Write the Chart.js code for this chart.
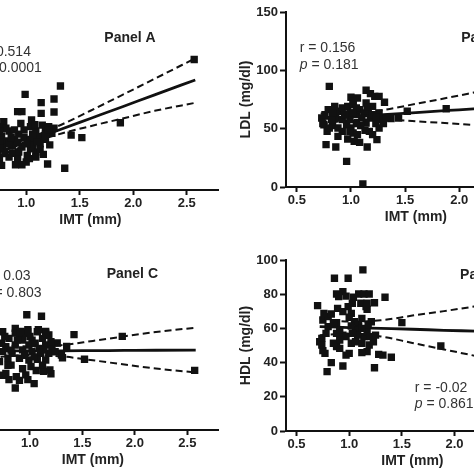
<!DOCTYPE html>
<html>
<head>
<meta charset="utf-8">
<script src="https://cdn.jsdelivr.net/npm/chart.js@4.4.1/dist/chart.umd.min.js"></script>
<style>
html, body { margin: 0; padding: 0; background: #fff; }
#page { position: relative; width: 474px; height: 474px; overflow: hidden; background: #fff; }
.panel { position: absolute; }
.panel canvas { display: block; }
</style>
</head>
<body>
<div id="page">
  <div class="panel" style="left:-98px; top:0px;"><canvas id="panelA" width="322" height="238" style="width:322px;height:238px"></canvas></div>
  <div class="panel" style="left:226px; top:0px;"><canvas id="panelB" width="325" height="235" style="width:325px;height:235px"></canvas></div>
  <div class="panel" style="left:-93px; top:248px;"><canvas id="panelC" width="317" height="230" style="width:317px;height:230px"></canvas></div>
  <div class="panel" style="left:226px; top:248px;"><canvas id="panelD" width="318" height="231" style="width:318px;height:231px"></canvas></div>
</div>
<script>
// x ticks shared by all panels (IMT, mm)
var imtTicks = [0.5, 1.0, 1.5, 2.0, 2.5];
// x positions where the fit line and its 95% band were read
var fitX = [0.72, 1.0, 1.3, 1.6, 1.9, 2.2, 2.58];

// Panel A  [IMT, value]
var pointsA = [[1.32,87.6],[0.99,80.6],[1.26,76.7],[1.14,73.6],[1.26,65.7],[1.14,64.6],[0.92,66],[0.96,66],[1.05,59],
  [2.57,110],[1.88,56.7],[1.42,46.3],[1.52,44.1],[1.20,21.9],[1.36,18.3],[0.79,57.6],
  [0.75,53.4],[1.04,53.4],[1.15,54.7],[1.21,53.4],[1.26,52],[1.09,49.7],[1.18,49.7],[1.24,47.8],[0.93,47.1],
  [0.84,49.7],[0.77,45.5],[0.81,41.3],[0.89,42.7],[0.98,44],[1.04,42.7],[1.12,44],[1.18,42.7],[1.13,39],
  [1.06,37.6],[0.96,36.2],[0.87,37],[0.78,36.2],[0.80,30.6],[0.84,27.8],[0.92,26.4],[1.01,29.2],[1.00,23.6],
  [0.90,21.3],[1.09,32],[1.04,34.8],[1.13,34.2],[0.75,26.4],[0.75,40.4],[0.93,32],[0.84,39],[1.18,47],
  [1.21,50.6],[0.98,50.6],[0.89,50.6],[0.81,52],[1.01,39],[1.10,40.4],[0.92,40.4],[1.06,47],[0.86,44],
  [0.75,49.7],[0.75,35.4],[1.03,26.4],[0.96,21.3],[1.09,27.8],[0.77,20.8],[0.72,45],[0.73,30],[0.71,55],
  [1.22,38],[1.16,30],[0.87,31],[0.95,56],[1.08,55]];
var fitA   = [31.2, 40.4, 50.4, 60.3, 70.2, 80.2, 92.7];
var upperA = [34.7, 42.9, 53.9, 66.8, 80.2, 93.7, 111];
var lowerA = [27.7, 37.9, 46.9, 53.8, 60.2, 66.7, 73.5];

// Panel B  [IMT, LDL]
var pointsB = [[0.80,86.3],[0.77,36.3],[0.86,34.3],[0.96,22],[1.11,2.6],[1.15,34.3],[1.08,38.3],[0.97,41.1],[1.24,40.6],
  [1.14,82.9],[1.18,80],[1.22,77.7],[1.26,77.7],[1.31,72.6],[1.00,76.9],[1.02,73.4],[1.52,64.9],[1.88,67.1],
  [1.44,59.1],[1.37,58.6],[1.26,50.6],[1.26,63.4],[0.79,66.3],[0.73,59.1],[0.75,53.4],[0.78,47.7],[0.83,52.6],
  [0.86,59.1],[0.89,64.9],[0.92,67.7],[0.97,69.1],[1.02,70.6],[0.99,63.4],[1.05,62],[1.08,66.3],[1.12,63.4],
  [1.16,64.9],[1.20,69.1],[1.18,59.1],[1.14,54.9],[1.09,52.6],[1.05,54.3],[1.00,50.6],[0.96,53.4],[0.92,57.7],
  [0.88,50.6],[0.82,57.7],[0.76,62],[1.02,46.3],[1.06,44.9],[1.17,47.7],[1.20,44.9],[1.23,54.3],[1.29,57.7],
  [1.33,59.1],[0.92,47.7],[0.99,57.7],[1.10,59.1],[1.05,67.7],[0.94,62],[0.85,69.1],[0.74,54.3],[1.20,62],
  [1.30,54.3],[1.14,72],[1.06,76.3],[0.88,43.4],[1.03,39.1],[1.13,48.6],[1.23,60],[0.83,63.4],[1.02,63.4],
  [1.15,68.6],[0.80,50.6],[0.99,47.7]];
var fitB   = [58.5, 60.2, 62.0, 63.8, 65.6, 67.4, 69.7];
var upperB = [63.0, 63.2, 66.0, 71.3, 76.6, 82.2, 89.2];
var lowerB = [54.0, 57.2, 58.0, 56.3, 54.6, 52.6, 50.2];
var ldlTicks = [0, 50, 100, 150];

// Panel C  [IMT, value]
var pointsC = [[0.97,67.8],[1.11,66.9],[0.98,59],[1.42,56.1],[1.88,55.1],[2.57,35.1],[1.52,41.6],[1.31,42.5],[1.35,49.2],
  [1.26,51.2],[1.17,55.7],[0.86,24.7],[0.90,29.2],[0.98,29.6],[1.04,27.3],[0.74,32.2],[0.80,29.6],[1.20,33.1],
  [1.13,34.5],[0.80,53.9],[0.90,55.9],[0.93,52.9],[1.02,52.9],[1.12,53.9],[1.18,55.9],[0.73,51],[0.77,49],
  [0.86,50],[0.99,50],[1.05,51],[1.15,50],[1.21,48],[0.74,46.1],[0.83,45.1],[0.93,47.1],[1.02,46.1],[1.10,45.1],
  [1.18,45.1],[1.30,44.1],[0.79,42.2],[0.90,42.2],[0.99,41.2],[1.07,41.6],[1.15,41.2],[0.71,40.2],[0.82,38.2],
  [1.01,37.3],[1.12,38.2],[1.19,35.3],[0.77,33.3],[0.87,31.4],[0.96,32.4],[0.74,57.8],[0.86,59.8],[1.07,57.8],
  [1.15,56.9],[0.96,56.9],[0.76,55],[0.82,47],[0.88,53],[0.95,44],[1.00,55],[1.04,43],[1.09,48],[1.13,47],
  [1.20,52],[1.24,46],[0.79,38],[0.93,36],[1.06,35],[0.86,57],[1.15,58],[0.98,58],[1.08,59],[0.91,58]];
var fitC   = [46.5, 46.6, 46.6, 46.7, 46.8, 46.9, 47.0];
var upperC = [50.0, 49.1, 49.9, 52.4, 55.1, 57.6, 60.2];
var lowerC = [43.0, 44.1, 43.3, 41.0, 38.5, 36.2, 33.8];

// Panel D  [IMT, HDL]
var pointsD = [[1.13,94.2],[0.86,89.3],[0.99,89.3],[0.70,73.3],[0.88,80.1],[0.94,81.5],[0.97,78.9],[0.90,78.6],[1.04,78.2],
  [1.09,80.1],[1.14,80.1],[1.19,80.1],[1.34,78.2],[0.89,71.7],[0.99,72.7],[1.02,68.8],[1.00,66.5],[1.17,71.2],
  [1.24,75],[1.11,74.7],[1.16,72.7],[0.75,64.9],[0.80,66.9],[0.83,68.4],[0.88,63.4],[1.12,65.9],[1.09,62],
  [1.05,63.9],[1.50,63.4],[1.87,49.7],[1.25,56.1],[1.32,44.4],[1.40,43.1],[1.28,44.8],[1.17,46.4],[1.12,45.8],
  [1.24,37],[0.79,34.7],[0.83,40],[0.94,38],[0.77,45.4],[0.75,47],[0.72,52.2],[0.74,54.2],[0.88,49.3],
  [0.91,48.3],[0.97,44.4],[1.00,45.4],[1.02,51.3],[1.06,52.2],[0.88,57.1],[0.94,56.1],[1.14,55.2],[1.17,58.1],
  [1.19,50.3],[0.80,61],[0.91,59.1],[1.06,59.1],[1.02,61.4],[0.78,57.1],[0.74,50.3],[0.85,51.3],[0.97,55.2],
  [1.08,56.1],[1.12,51.3],[1.03,74.7],[0.94,69.8],[0.85,63],[1.21,63.9],[1.18,62],[1.12,60],[0.76,68.8],
  [1.23,52.2],[1.03,57.1],[1.20,55.2],[1.17,74.7],[0.91,53.2]];
var fitD   = [61.0, 60.5, 60.0, 59.5, 58.9, 58.4, 57.7];
var upperD = [66.0, 64.0, 64.7, 67.5, 70.1, 72.9, 76.2];
var lowerD = [56.0, 57.0, 55.3, 51.5, 47.7, 43.9, 39.2];
var hdlTicks = [0, 20, 40, 60, 80, 100];

var FONT = '"Liberation Sans", Arial, sans-serif';
var INK = '#111';

function toXY(list) { return list.map(function (p) { return {x: p[0], y: p[1]}; }); }
function curve(ys) { return fitX.map(function (x, i) { return {x: x, y: ys[i]}; }); }

// r / p values and panel names, placed in data coordinates
function notesPlugin(notes) {
  return {
    id: 'notes',
    afterDraw: function (chart) {
      var ctx = chart.ctx, xs = chart.scales.x, ys = chart.scales.y;
      ctx.save();
      ctx.textBaseline = 'middle';
      ctx.textAlign = 'left';
      notes.forEach(function (n) {
        var px = xs.getPixelForValue(n.x), py = ys.getPixelForValue(n.y);
        if (n.bold) {
          ctx.font = 'bold 14px ' + FONT;
          ctx.fillStyle = '#222';
          ctx.fillText(n.text, px, py);
          return;
        }
        ctx.fillStyle = '#333';
        if (n.italic) {
          ctx.font = 'italic 14px ' + FONT;
          ctx.fillText(n.italic, px, py);
          px += ctx.measureText(n.italic).width;
        }
        ctx.font = '14px ' + FONT;
        ctx.fillText(n.text, px, py);
      });
      ctx.restore();
    }
  };
}

function makePanel(id, pts, fit, upper, lower, yMax, yTicks, yTitle, notes) {
  var ctx = document.getElementById(id).getContext('2d');
  var bandStyle = {type: 'line', borderColor: INK, borderWidth: 2, borderDash: [7, 4], pointRadius: 0,
                   fill: false, cubicInterpolationMode: 'monotone', order: 1};
  return new Chart(ctx, {
    type: 'scatter',
    data: {
      datasets: [{
        label: 'subjects',
        data: toXY(pts),
        pointStyle: 'rect',
        pointRadius: 5.2,
        backgroundColor: INK,
        borderWidth: 0,
        order: 0
      }, {
        type: 'line', label: 'fit', data: curve(fit), borderColor: INK, borderWidth: 2.8,
        pointRadius: 0, fill: false, cubicInterpolationMode: 'monotone', order: 1
      },
        Object.assign({label: 'upper 95%', data: curve(upper)}, bandStyle),
        Object.assign({label: 'lower 95%', data: curve(lower)}, bandStyle)
      ]
    },
    options: {
      responsive: false,
      animation: false,
      layout: {padding: {top: 12, right: 1, left: 0, bottom: 0}},
      plugins: {legend: {display: false}, tooltip: {enabled: false}},
      scales: {
        x: {
          type: 'linear', min: 0.4, max: 2.8,
          afterFit: function (s) { s.height = 48; },
          afterBuildTicks: function (s) { s.ticks = imtTicks.map(function (v) { return {value: v}; }); },
          border: {display: true, color: INK, width: 2},
          grid: {drawOnChartArea: false, drawTicks: true, tickLength: 5, tickWidth: 2, tickColor: INK},
          ticks: {color: '#222', padding: 1, font: {family: FONT, size: 13, weight: 'bold'},
                  callback: function (v) { return v.toFixed(1); }},
          title: {display: true, text: 'IMT (mm)', color: '#222', padding: {top: 0, bottom: 9},
                  font: {family: FONT, size: 14, weight: 'bold'}}
        },
        y: {
          type: 'linear', min: 0, max: yMax,
          afterFit: function (s) { s.width = 60; },
          afterBuildTicks: function (s) {
            if (yTicks) s.ticks = yTicks.map(function (v) { return {value: v}; });
          },
          border: {display: true, color: INK, width: 2},
          grid: {drawOnChartArea: false, drawTicks: true, tickLength: 6, tickWidth: 2, tickColor: INK},
          ticks: {display: !!yTicks, color: '#222', padding: 2, font: {family: FONT, size: 13, weight: 'bold'}},
          title: {display: !!yTitle, text: yTitle || '', color: '#222', padding: {top: 12, bottom: 4},
                  font: {family: FONT, size: 14, weight: 'bold'}}
        }
      }
    },
    plugins: [notesPlugin(notes)]
  });
}

makePanel('panelA', pointsA, fitA, upperA, lowerA, 150, null, null, [
  {x: 1.73, y: 128, text: 'Panel A', bold: true},
  {x: 0.524, y: 116.3, text: 'r = 0.514'},
  {x: 0.524, y: 102.8, italic: 'p', text: ' < 0.0001'}
]);

makePanel('panelB', pointsB, fitB, upperB, lowerB, 150, ldlTicks, 'LDL (mg/dl)', [
  {x: 2.018, y: 127.7, text: 'Panel B', bold: true},
  {x: 0.527, y: 119.1, text: 'r = 0.156'},
  {x: 0.527, y: 104.6, italic: 'p', text: ' = 0.181'}
]);

makePanel('panelC', pointsC, fitC, upperC, lowerC, 100, null, null, [
  {x: 1.731, y: 91.8, text: 'Panel C', bold: true},
  {x: 0.55, y: 90.6, text: 'r = 0.03'},
  {x: 0.55, y: 80.6, italic: 'p', text: ' = 0.803'}
]);

makePanel('panelD', pointsD, fitD, upperD, lowerD, 100, hdlTicks, 'HDL (mg/dl)', [
  {x: 2.053, y: 91.2, text: 'Panel D', bold: true},
  {x: 1.623, y: 25.1, text: 'r = -0.02'},
  {x: 1.623, y: 15.8, italic: 'p', text: ' = 0.861'}
]);
</script>
</body>
</html>
